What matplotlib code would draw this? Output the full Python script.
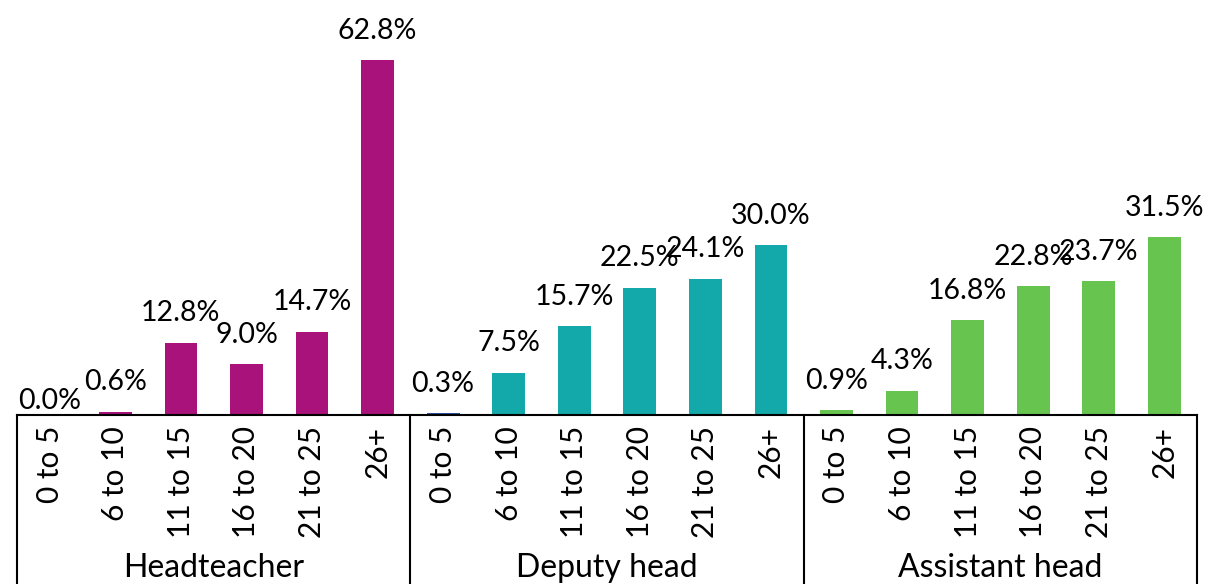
import matplotlib.pyplot as plt
from matplotlib.transforms import blended_transform_factory

plt.rcParams['font.family'] = ['Lato', 'DejaVu Sans']

groups = ['Headteacher', 'Deputy head', 'Assistant head']
bands = ['0 to 5', '6 to 10', '11 to 15', '16 to 20', '21 to 25', '26+']
head = [0.0, 0.6, 12.8, 9.0, 14.7, 62.8]
deputy = [0.3, 7.5, 15.7, 22.5, 24.1, 30.0]
assistant = [0.9, 4.3, 16.8, 22.8, 23.7, 31.5]

colours = ['#A8127A', '#13A9AA', '#67C44F']

fig = plt.figure(figsize=(12.09, 5.84), dpi=100)
ax = fig.add_axes([17 / 1209, 169 / 584, 1180 / 1209, 415 / 584])

values = head + deputy + assistant
labels = bands * 3
cols = [colours[0]] * 6 + [colours[1]] * 6 + [colours[2]] * 6
cols[6] = '#2F4F9F'  # the tiny deputy 0-5 bar is drawn dark blue in the original
x = list(range(len(values)))

bars = ax.bar(x, values, width=0.5, color=cols)
for b, v in zip(bars, values):
    off = 2.9 if v > 0 else 0.2
    ax.text(b.get_x() + b.get_width() / 2, v + off, f'{v:.1f}%',
            ha='center', va='bottom', fontsize=20.5)

ax.set_xlim(-0.5, 17.5)
ax.set_ylim(0, 73.4)
ax.set_yticks([])
ax.set_xticks(x)
ax.set_xticklabels(labels, rotation=90, fontsize=21.5, va='top')
ax.tick_params(axis='x', length=0, pad=8)
for s in ['left', 'top', 'right']:
    ax.spines[s].set_visible(False)
ax.spines['bottom'].set_linewidth(1.5)

tr = blended_transform_factory(ax.transData, ax.transAxes)
for sep in [-0.5, 5.5, 11.5, 17.5]:
    ax.plot([sep, sep], [0, -0.41], color='black', lw=1.5,
            transform=tr, clip_on=False)
for i, g in enumerate(groups):
    ax.text(i * 6 + 2.5, -0.368, g, ha='center', va='center',
            fontsize=23, transform=tr)

fig.savefig('out.png', dpi=100)
